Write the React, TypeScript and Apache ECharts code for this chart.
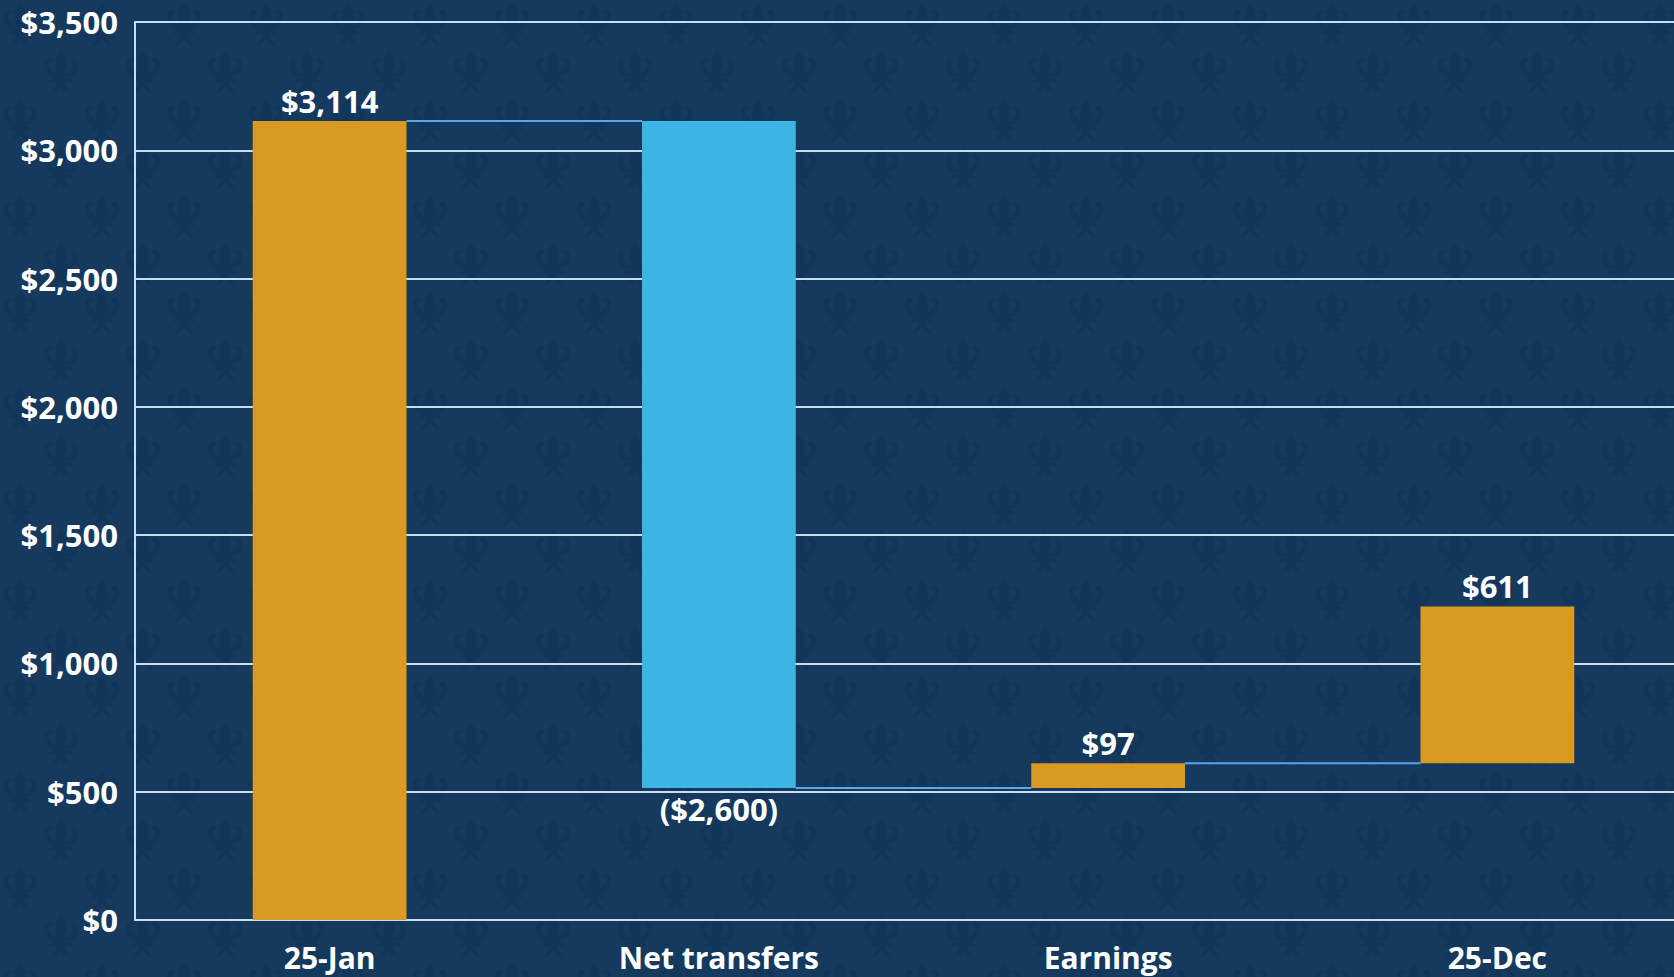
import React, { useEffect, useRef } from "react";
import * as echarts from "echarts";

const categories = ["25-Jan", "Net transfers", "Earnings", "25-Dec"];
const baseValues = [0, 514, 514, 611];
const barValues = [3114, 2600, 97, 611];
const barLabels = ["$3,114", "($2,600)", "$97", "$611"];
const barColors = ["#D89A22", "#3CB4E4", "#D89A22", "#D89A22"];
const labelPositions = ["top", "bottom", "top", "top"];
const connectors = [
  [0, 3114],
  [1, 514],
  [2, 611],
];
const yTicks = { min: 0, max: 3500, interval: 500 };

const fleur =
  "M20 0 C13 8 12 18 17 28 L23 28 C28 18 27 8 20 0 Z " +
  "M16 28 C8 27 2 21 3 13 C4 7 10 6 13 10 C9 10 7 14 9 18 C11 21 14 23 16 24 Z " +
  "M24 28 C32 27 38 21 37 13 C36 7 30 6 27 10 C31 10 33 14 31 18 C29 21 26 23 24 24 Z " +
  "M9 28 L31 28 L31 32 L9 32 Z " +
  "M16 32 C15 38 11 42 8 45 C13 45 17 41 20 37 C23 41 27 45 32 45 C29 42 25 38 24 32 Z";

function patternUrl() {
  const t = (x: number, y: number) =>
    `<path transform="translate(${x},${y})" d="${fleur}"/>`;
  const svg =
    `<svg xmlns="http://www.w3.org/2000/svg" width="82" height="96" viewBox="0 0 82 96">` +
    `<rect width="82" height="96" fill="#16395E"/>` +
    `<g fill="#12355A">` +
    t(0, 2) + t(82, 2) + t(41, 50) + t(-41, 50) + t(0, 98) + t(82, 98) + t(41, -46) +
    `</g></svg>`;
  return "url(\"data:image/svg+xml;utf8," + encodeURIComponent(svg) + "\")";
}

export default function App() {
  const ref = useRef<HTMLDivElement>(null);
  useEffect(() => {
    if (!ref.current) return;
    const chart = echarts.init(ref.current, undefined, { renderer: "svg" });
    const font = "'Open Sans', 'Noto Sans', sans-serif";
    chart.setOption({
      animation: false,
      backgroundColor: "transparent",
      grid: { left: 135, right: 0, top: 22, bottom: 57, containLabel: false },
      xAxis: {
        type: "category",
        data: categories,
        axisLine: { show: true, lineStyle: { color: "#C5DDF5", width: 2 } },
        axisTick: { show: false },
        axisLabel: {
          color: "#FFFFFF",
          fontSize: 30,
          fontWeight: "bold",
          fontFamily: font,
          margin: 22,
        },
      },
      yAxis: {
        type: "value",
        min: yTicks.min,
        max: yTicks.max,
        interval: yTicks.interval,
        axisLine: { show: true, lineStyle: { color: "#C5DDF5", width: 2 } },
        axisTick: { show: false },
        splitLine: { show: true, lineStyle: { color: "#C5DDF5", width: 2 } },
        axisLabel: {
          color: "#FFFFFF",
          fontSize: 31,
          fontWeight: "bold",
          fontFamily: font,
          margin: 17,
          formatter: (v: number) => "$" + v.toLocaleString("en-US"),
        },
      },
      series: [
        {
          type: "bar",
          stack: "w",
          barWidth: "39.5%",
          itemStyle: { color: "transparent" },
          emphasis: { disabled: true },
          data: baseValues,
          z: 2,
        },
        {
          type: "bar",
          stack: "w",
          barWidth: "39.5%",
          data: barValues.map((v, i) => ({
            value: v,
            itemStyle: { color: barColors[i] },
            label: {
              show: true,
              position: labelPositions[i],
              formatter: barLabels[i],
              color: "#FFFFFF",
              fontSize: 31,
              fontWeight: "bold",
              fontFamily: font,
              distance: 5,
            },
          })),
          z: 3,
        },
        {
          type: "custom",
          data: connectors,
          z: 4,
          renderItem: (params: any, api: any) => {
            const i = api.value(0);
            const lvl = api.value(1);
            const bw = api.size([1, 0])[0] * 0.395;
            const p1 = api.coord([i, lvl]);
            const p2 = api.coord([i + 1, lvl]);
            return {
              type: "line",
              shape: { x1: p1[0] + bw / 2, y1: p1[1], x2: p2[0] - bw / 2, y2: p2[1] },
              style: { stroke: "#5AA6E8", lineWidth: 2 },
            };
          },
        },
      ],
    });
    return () => chart.dispose();
  }, []);
  return (
    <div
      style={{
        position: "fixed",
        left: 0,
        top: 0,
        width: 1674,
        height: 977,
        overflow: "hidden",
        backgroundColor: "#16395E",
        backgroundImage: patternUrl(),
        backgroundRepeat: "repeat",
      }}
    >
      <div ref={ref} style={{ width: 1692, height: 977 }} />
    </div>
  );
}
